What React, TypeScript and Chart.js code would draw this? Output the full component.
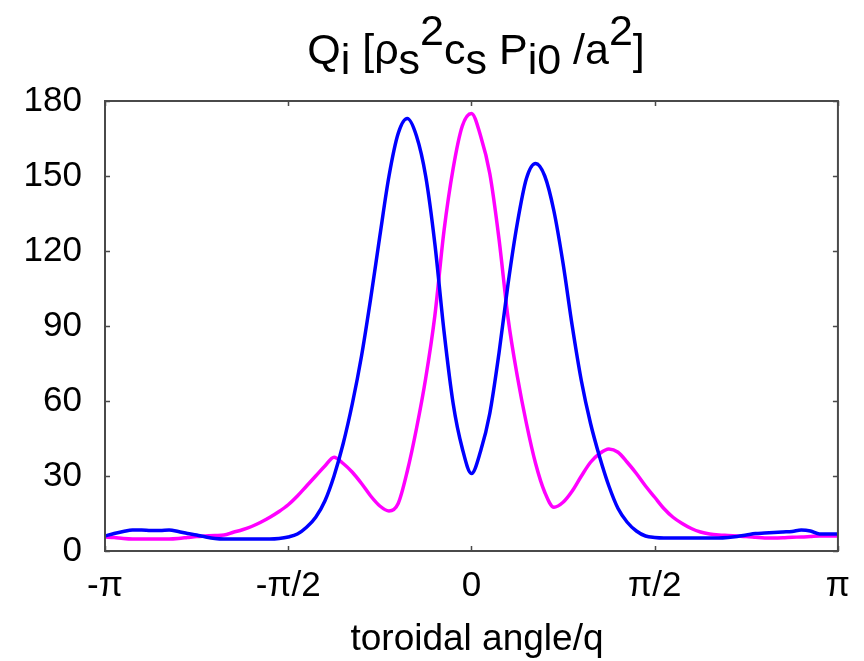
import React, { useEffect, useRef } from "react";
import { Chart, registerables } from "chart.js";

Chart.register(...registerables);

// Toroidal angle grid, in units of π
const angle = [
  -1, -0.975, -0.95, -0.925, -0.9, -0.875, -0.85, -0.825, -0.8, -0.775,
  -0.75, -0.725, -0.7, -0.675, -0.65, -0.625, -0.6, -0.575, -0.55, -0.525,
  -0.5, -0.475, -0.45, -0.425, -0.4, -0.375, -0.35, -0.325, -0.3, -0.275,
  -0.25, -0.225, -0.2, -0.175, -0.15, -0.125, -0.1, -0.075, -0.05, -0.025,
  0, 0.025, 0.05, 0.075, 0.1, 0.125, 0.15, 0.175, 0.2, 0.225,
  0.25, 0.275, 0.3, 0.325, 0.35, 0.375, 0.4, 0.425, 0.45, 0.475,
  0.5, 0.525, 0.55, 0.575, 0.6, 0.625, 0.65, 0.675, 0.7, 0.725,
  0.75, 0.775, 0.8, 0.825, 0.85, 0.875, 0.9, 0.925, 0.95, 0.975, 1,
];

// Ion heat flux, blue run
const fluxBlue = [
  6, 7, 7.8, 8.4, 8.4, 8.2, 8.2, 8.4, 7.8, 7,
  6.4, 5.6, 5, 4.8, 4.8, 4.8, 4.8, 4.8, 4.8, 5,
  5.6, 6.8, 9.5, 13.5, 20, 30, 43, 59, 78, 101,
  126, 150, 167, 173, 166, 150, 123, 88, 59, 41,
  31, 40, 55, 79, 107, 131, 149, 155, 150, 136,
  115, 90, 68, 51, 37.5, 26, 17, 11.5, 8, 6,
  5.4, 5.2, 5.2, 5.2, 5.2, 5.2, 5.2, 5.2, 5.4, 5.8,
  6.4, 7, 7.2, 7.4, 7.6, 7.8, 8.4, 8, 6.8, 6.8, 6.8,
];

// Ion heat flux, magenta run
const fluxMagenta = [
  5.6, 5.4, 5, 4.8, 4.8, 4.8, 4.8, 4.8, 5, 5.4,
  5.8, 6, 6.2, 6.4, 7.5, 8.5, 9.8, 11.5, 13.5, 15.8,
  18.5, 22, 26, 30, 34, 37.5, 35, 31.5, 27, 22,
  18, 16, 19, 32, 49, 69, 94, 128, 153, 170,
  175, 166, 151, 125, 93, 70, 51, 35, 23.5, 17.5,
  19.5, 24, 30, 35.5, 39, 40.8, 39.5, 35.5, 31, 26,
  21.5, 17, 13.5, 11, 9, 7.6, 6.8, 6.4, 6.2, 6,
  5.8, 5.5, 5.2, 5.2, 5.3, 5.5, 5.6, 5.8, 6, 6, 6,
];

const xTickValues = [-1, -0.5, 0, 0.5, 1];
const xTickLabels = ["-π", "-π/2", "0", "π/2", "π"];
const yTicks = [0, 30, 60, 90, 120, 150, 180];

const FONT = "'Liberation Sans', Arial, Helvetica, sans-serif";

// Title runs: shift 0 = baseline, 1 = superscript, -1 = subscript
const titleRuns: [string, number][] = [
  ["Q", 0], ["i", -1], [" [ρ", 0], ["s", -1], ["2", 1], ["c", 0], ["s", -1],
  [" P", 0], ["i0", -1], [" /a", 0], ["2", 1], ["]", 0],
];
const xAxisTitle = "toroidal angle/q";

const decorations = {
  id: "decorations",
  afterDraw(chart: any) {
    const { ctx, chartArea, scales } = chart;
    const { left, right, top, bottom } = chartArea;
    ctx.save();
    // frame
    ctx.strokeStyle = "#4a4a4a";
    ctx.lineWidth = 2;
    ctx.strokeRect(left, top, right - left, bottom - top);
    // inward mirrored tick marks
    ctx.lineWidth = 1.5;
    const tl = 5;
    ctx.beginPath();
    for (const v of xTickValues) {
      const x = Math.round(scales.x.getPixelForValue(v)) + 0.5;
      ctx.moveTo(x, bottom);
      ctx.lineTo(x, bottom - tl);
      ctx.moveTo(x, top);
      ctx.lineTo(x, top + tl);
    }
    for (const v of yTicks) {
      const y = Math.round(scales.y.getPixelForValue(v)) + 0.5;
      ctx.moveTo(left, y);
      ctx.lineTo(left + tl, y);
      ctx.moveTo(right, y);
      ctx.lineTo(right - tl, y);
    }
    ctx.stroke();

    // title with sub/superscripts
    ctx.fillStyle = "#000";
    ctx.textBaseline = "alphabetic";
    ctx.textAlign = "left";
    ctx.font = `43px ${FONT}`;
    const widths = titleRuns.map(([t]) => ctx.measureText(t).width);
    const total = widths.reduce((a, b) => a + b, 0);
    let x = 476 - total / 2;
    const base = 64;
    titleRuns.forEach(([t, s], i) => {
      const dy = s === 1 ? -19 : s === -1 ? 10 : 0;
      ctx.fillText(t, x, base + dy);
      x += widths[i];
    });

    // x-axis title
    ctx.textAlign = "center";
    ctx.font = `37px ${FONT}`;
    ctx.fillText(xAxisTitle, 477, 650);
    ctx.restore();
  },
};

export default function App() {
  const ref = useRef<HTMLCanvasElement>(null);

  useEffect(() => {
    if (!ref.current) return;
    const lineStyle = {
      borderWidth: 3.5,
      pointRadius: 0,
      tension: 0.4,
      cubicInterpolationMode: "monotone" as const,
      fill: false,
    };
    const chart = new Chart(ref.current, {
      type: "line",
      data: {
        datasets: [
          {
            ...lineStyle,
            data: angle.map((a, i) => ({ x: a, y: fluxBlue[i] })),
            borderColor: "#0000ff",
          },
          {
            ...lineStyle,
            data: angle.map((a, i) => ({ x: a, y: fluxMagenta[i] })),
            borderColor: "#ff00ff",
          },
        ],
      },
      options: {
        animation: false,
        responsive: false,
        layout: { padding: { top: 101, right: 16, left: 0, bottom: 0 } },
        plugins: {
          legend: { display: false },
          tooltip: { enabled: false },
          title: { display: false },
        },
        scales: {
          x: {
            type: "linear",
            min: -1,
            max: 1,
            afterFit: (s: any) => {
              s.height = 110;
            },
            afterBuildTicks: (s: any) => {
              s.ticks = xTickValues.map((v) => ({ value: v }));
            },
            grid: { display: false, drawTicks: false },
            border: { display: false },
            ticks: {
              padding: 14,
              color: "#000",
              font: { family: FONT, size: 35 },
              maxRotation: 0,
              autoSkip: false,
              callback: (v: any) => {
                const i = xTickValues.indexOf(Number(v));
                return i >= 0 ? xTickLabels[i] : "";
              },
            },
          },
          y: {
            min: 0,
            max: 180,
            afterFit: (s: any) => {
              s.width = 105;
            },
            afterBuildTicks: (s: any) => {
              s.ticks = yTicks.map((v) => ({ value: v }));
            },
            grid: { display: false, drawTicks: false },
            border: { display: false },
            ticks: {
              padding: 23,
              color: "#000",
              font: { family: FONT, size: 35 },
              autoSkip: false,
            },
          },
        },
      },
      plugins: [decorations],
    });
    return () => chart.destroy();
  }, []);

  return (
    <div style={{ position: "absolute", left: 0, top: 0, width: 864, height: 661, background: "#fff" }}>
      <canvas ref={ref} width={864} height={661} style={{ display: "block" }} />
    </div>
  );
}
